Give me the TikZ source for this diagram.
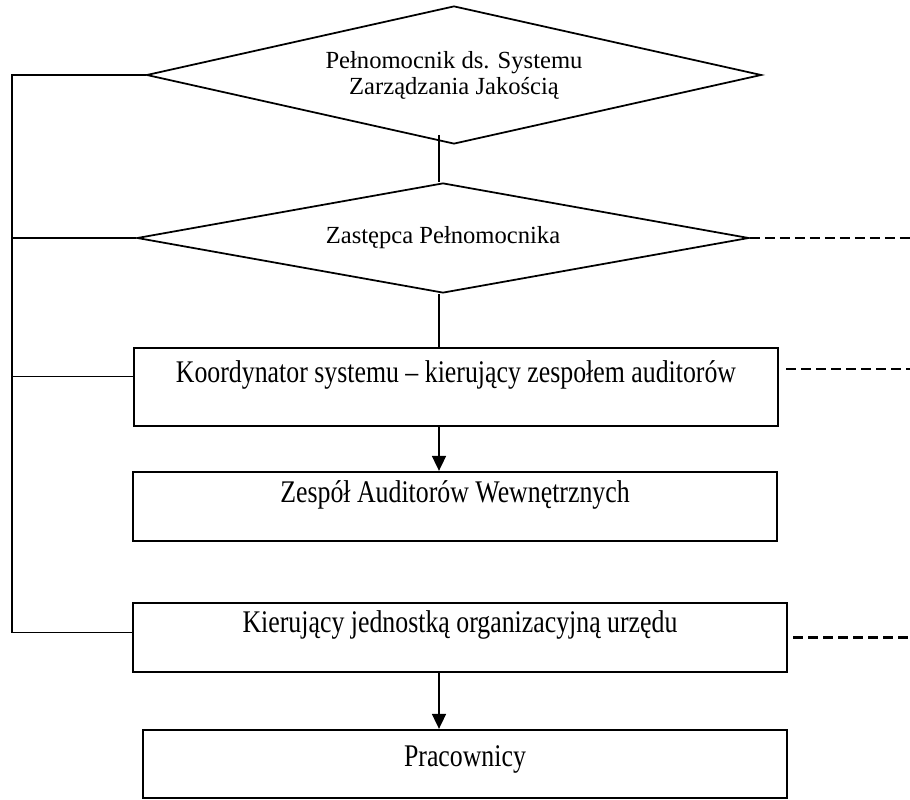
\documentclass[tikz,border=0pt]{standalone}
\usepackage{fontspec}
\setmainfont{Liberation Serif}
\usepackage{graphicx}
\usetikzlibrary{shapes.geometric,arrows.meta,calc}
\newcommand\tallbox[1]{\scalebox{1}[1.22]{#1}}
\begin{document}
\begin{tikzpicture}[x=0.02cm,y=-0.02cm,
  diam/.style={diamond,draw,line width=1pt,inner sep=0pt,align=center,
    font=\fontsize{14}{14.8}\selectfont},
  orgbox/.style={rectangle,draw,line width=1.3pt,inner sep=0pt,text height=0.4cm,
    font=\fontsize{14.7}{17}\selectfont},
  conn/.style={line width=1pt},
  arr/.style={conn,-{Triangle[width=0.28cm,length=0.3cm]}},
  dashconn/.style={line width=1.3pt,dash pattern=on 0.2cm off 0.1cm}]
\useasboundingbox (0,0) rectangle (910,800);

\node[diam,aspect=4.5,minimum width=12.3cm,minimum height=2.76cm] (d1) at (454,75)
  {Pełnomocnik ds. Systemu\\Zarządzania Jakością};
\node[diam,aspect=5.6,minimum width=12.24cm,minimum height=2.2cm] (d2) at (443,238)
  {Zastępca Pełnomocnika};
\node[orgbox,minimum width=12.88cm,minimum height=1.56cm,text depth=0.56cm] (b1) at (456,387)
  {\tallbox{Koordynator systemu – kierujący zespołem auditorów}};
\node[orgbox,minimum width=12.88cm,minimum height=1.38cm,text depth=0.54cm] (b2) at (455,506.5)
  {\tallbox{Zespół Auditorów Wewnętrznych}};
\node[orgbox,minimum width=13.08cm,minimum height=1.38cm,text depth=0.62cm] (b3) at (460,637.5)
  {\tallbox{Kierujący jednostką organizacyjną urzędu}};
\node[orgbox,minimum width=12.88cm,minimum height=1.36cm,text depth=0.32cm] (b4) at (465,764)
  {\tallbox{Pracownicy}};

\coordinate (lx) at (12,70);
\coordinate (col) at (439,0);
\coordinate (rx) at (910,0);
\coordinate (b1l) at ($(b1.north west)!0.37!(b1.south west)$);
\coordinate (b3l) at ($(b3.north west)!0.43!(b3.south west)$);
\coordinate (b1r) at ($(b1.north east)!0.28!(b1.south east)+(7,0)$);
\coordinate (b3r) at ($(b3.east)+(5,0)$);
\coordinate (d1b) at ($(d1.south -| col)+(0,-10)$);

% left bus
\draw[conn] (d1.west) -- (d1.west -| lx) |- (b3l);
\draw[conn] (d2.west) -- (d2.west -| lx);
\draw[conn] (b1l) -- (b1l -| lx);

% central column
\draw[conn] (d1b) -- (d2.north -| col);
\draw[conn] (d2.south -| col) -- (b1.north -| col);
\draw[arr] (b1.south -| col) -- (b2.north -| col);
\draw[arr] (b3.south -| col) -- (b4.north -| col);

% dashed lines to the right
\draw[dashconn] (d2.east) -- (d2.east -| rx);
\draw[dashconn] (b1r) -- (b1r -| rx);
\draw[dashconn] (b3r) -- (b3r -| rx);
\end{tikzpicture}
\end{document}
